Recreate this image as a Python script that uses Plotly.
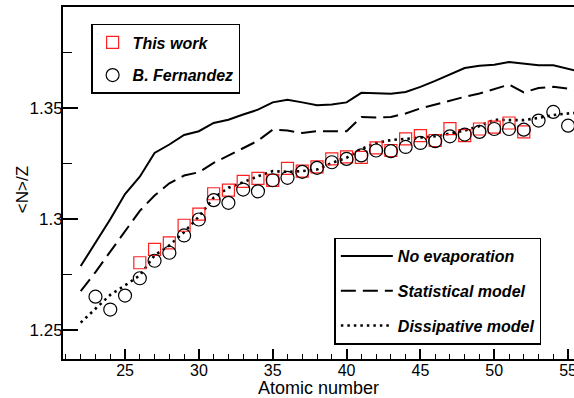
import plotly.graph_objects as go

# ---------------- data ----------------
z_lines = list(range(22, 57))
no_evaporation = [1.2787, 1.2890, 1.2998, 1.3112, 1.3190, 1.3297, 1.3335, 1.3378, 1.3395, 1.3432,
                  1.3447, 1.3470, 1.3492, 1.3525, 1.3537, 1.3525, 1.3512, 1.3515, 1.3525, 1.3568,
                  1.3566, 1.3564, 1.3572, 1.3595, 1.3622, 1.3650, 1.3680, 1.3690, 1.3695, 1.3707,
                  1.3700, 1.3692, 1.3692, 1.3678, 1.3660]
statistical = [1.2674, 1.2760, 1.2852, 1.2944, 1.3036, 1.3105, 1.3160, 1.3195, 1.3210, 1.3252,
               1.3285, 1.3318, 1.3352, 1.3402, 1.3398, 1.3387, 1.3395, 1.3395, 1.3395, 1.3459,
               1.3457, 1.3459, 1.3475, 1.3498, 1.3515, 1.3535, 1.3550, 1.3565, 1.3585, 1.3605,
               1.3570, 1.3590, 1.3595, 1.3585, 1.3578]
dissipative = [1.2532, 1.2595, 1.2657, 1.2700, 1.2745, 1.2835, 1.2880, 1.2940, 1.3010, 1.3095,
               1.3140, 1.3165, 1.3192, 1.3215, 1.3212, 1.3215, 1.3222, 1.3252, 1.3275, 1.3315,
               1.3342, 1.3355, 1.3360, 1.3365, 1.3372, 1.3384, 1.3398, 1.3418, 1.3447, 1.3445,
               1.3445, 1.3455, 1.3468, 1.3475, 1.3480]

z_this = list(range(26, 53))
this_work = [1.2802, 1.2862, 1.2892, 1.2971, 1.3021, 1.3113, 1.3129, 1.3169, 1.3182, 1.3173,
             1.3227, 1.3215, 1.3234, 1.3270, 1.3279, 1.3277, 1.3320, 1.3308, 1.3360, 1.3375,
             1.3353, 1.3407, 1.3375, 1.3405, 1.3413, 1.3432, 1.3392]

z_fern = list(range(23, 56))
fernandez = [1.2649, 1.2591, 1.2654, 1.2732, 1.2811, 1.2847, 1.2925, 1.2997, 1.3084, 1.3072,
             1.3132, 1.3124, 1.3174, 1.3185, 1.3212, 1.3230, 1.3255, 1.3270, 1.3286, 1.3308,
             1.3305, 1.3324, 1.3342, 1.3350, 1.3372, 1.3380, 1.3392, 1.3405, 1.3405, 1.3402,
             1.3443, 1.3482, 1.3420]

x_ticks = [25, 30, 35, 40, 45, 50, 55]
y_ticks = [1.25, 1.3, 1.35]
y_tick_text = ["1.25", "1.3", "1.35"]

FONT = "Liberation Sans, Arial, Helvetica, sans-serif"

fig = go.Figure()

fig.add_trace(go.Scatter(x=z_lines, y=no_evaporation, mode="lines", name="No evaporation",
                         line=dict(color="black", width=2), legend="legend2", legendgroup="a"))
fig.add_trace(go.Scatter(x=z_lines, y=statistical, mode="lines", name="Statistical model",
                         line=dict(color="black", width=2, dash="15px,7px"), legend="legend2", legendgroup="b"))
fig.add_trace(go.Scatter(x=z_lines, y=dissipative, mode="lines", name="Dissipative model",
                         line=dict(color="black", width=2.6, dash="2.5px,4px"), legend="legend2", legendgroup="c"))
fig.add_trace(go.Scatter(x=z_this, y=this_work, mode="markers", name="This work",
                         marker=dict(symbol="square-open", size=12, color="#ff2020", line=dict(width=1.2)),
                         legend="legend", legendgroup="d"))
fig.add_trace(go.Scatter(x=z_fern, y=fernandez, mode="markers", name="B. Fernandez",
                         marker=dict(symbol="circle-open", size=13, color="black", line=dict(width=1.2)),
                         legend="legend", legendgroup="e"))

legend_font = dict(family=FONT, size=16, color="black", weight="bold", style="italic")

fig.update_layout(
    width=574, height=398,
    margin=dict(l=63, r=0, t=7, b=39, autoexpand=False),
    paper_bgcolor="white", plot_bgcolor="white",
    font=dict(family=FONT, size=16, color="black"),
    showlegend=True,
    hovermode=False,
    legend=dict(x=0.055, y=0.952, xanchor="left", yanchor="top",
                bgcolor="white", bordercolor="black", borderwidth=1.5,
                font=legend_font, tracegroupgap=9, traceorder="grouped",
                itemwidth=30, entrywidth=115),
    legend2=dict(x=0.531, y=0.345, xanchor="left", yanchor="top",
                 bgcolor="white", bordercolor="black", borderwidth=1.5,
                 font=legend_font, tracegroupgap=11, traceorder="grouped",
                 itemwidth=52, entrywidth=175),
    xaxis=dict(range=[20.8, 55.4], tickvals=x_ticks, ticks="inside", ticklen=10, tickwidth=1.5,
               tickcolor="black", showline=True, linecolor="black", linewidth=2, mirror=True,
               showgrid=False, zeroline=False, tickfont=dict(size=16), automargin=False,
               ticklabeloverflow="allow", ticklabelstandoff=-4,
               minor=dict(dtick=1, ticks="inside", ticklen=5, tickwidth=1.2, tickcolor="black", showgrid=False),
               title=dict(text="Atomic number", font=dict(size=18), standoff=3)),
    yaxis=dict(range=[1.2368, 1.3955], tickvals=y_ticks, ticktext=y_tick_text, ticks="inside",
               ticklen=15, tickwidth=1.5, tickcolor="black", showline=True, linecolor="black",
               linewidth=2, mirror=False, showgrid=False, zeroline=False, tickfont=dict(size=17),
               automargin=False, ticklabelstandoff=-5,
               minor=dict(tickvals=[1.275, 1.325, 1.375], ticks="inside", ticklen=9, tickwidth=1.2,
                          tickcolor="black", showgrid=False)),
    annotations=[dict(text="&lt;N&gt;/Z", xref="paper", yref="paper", x=-0.080, y=0.48,
                      xanchor="center", yanchor="middle", textangle=-90, showarrow=False,
                      font=dict(family=FONT, size=17, color="black"))],
)

fig.write_html("out.html", config={"displayModeBar": False},
               post_script="document.body.style.margin='0';document.body.style.overflow='hidden';")
